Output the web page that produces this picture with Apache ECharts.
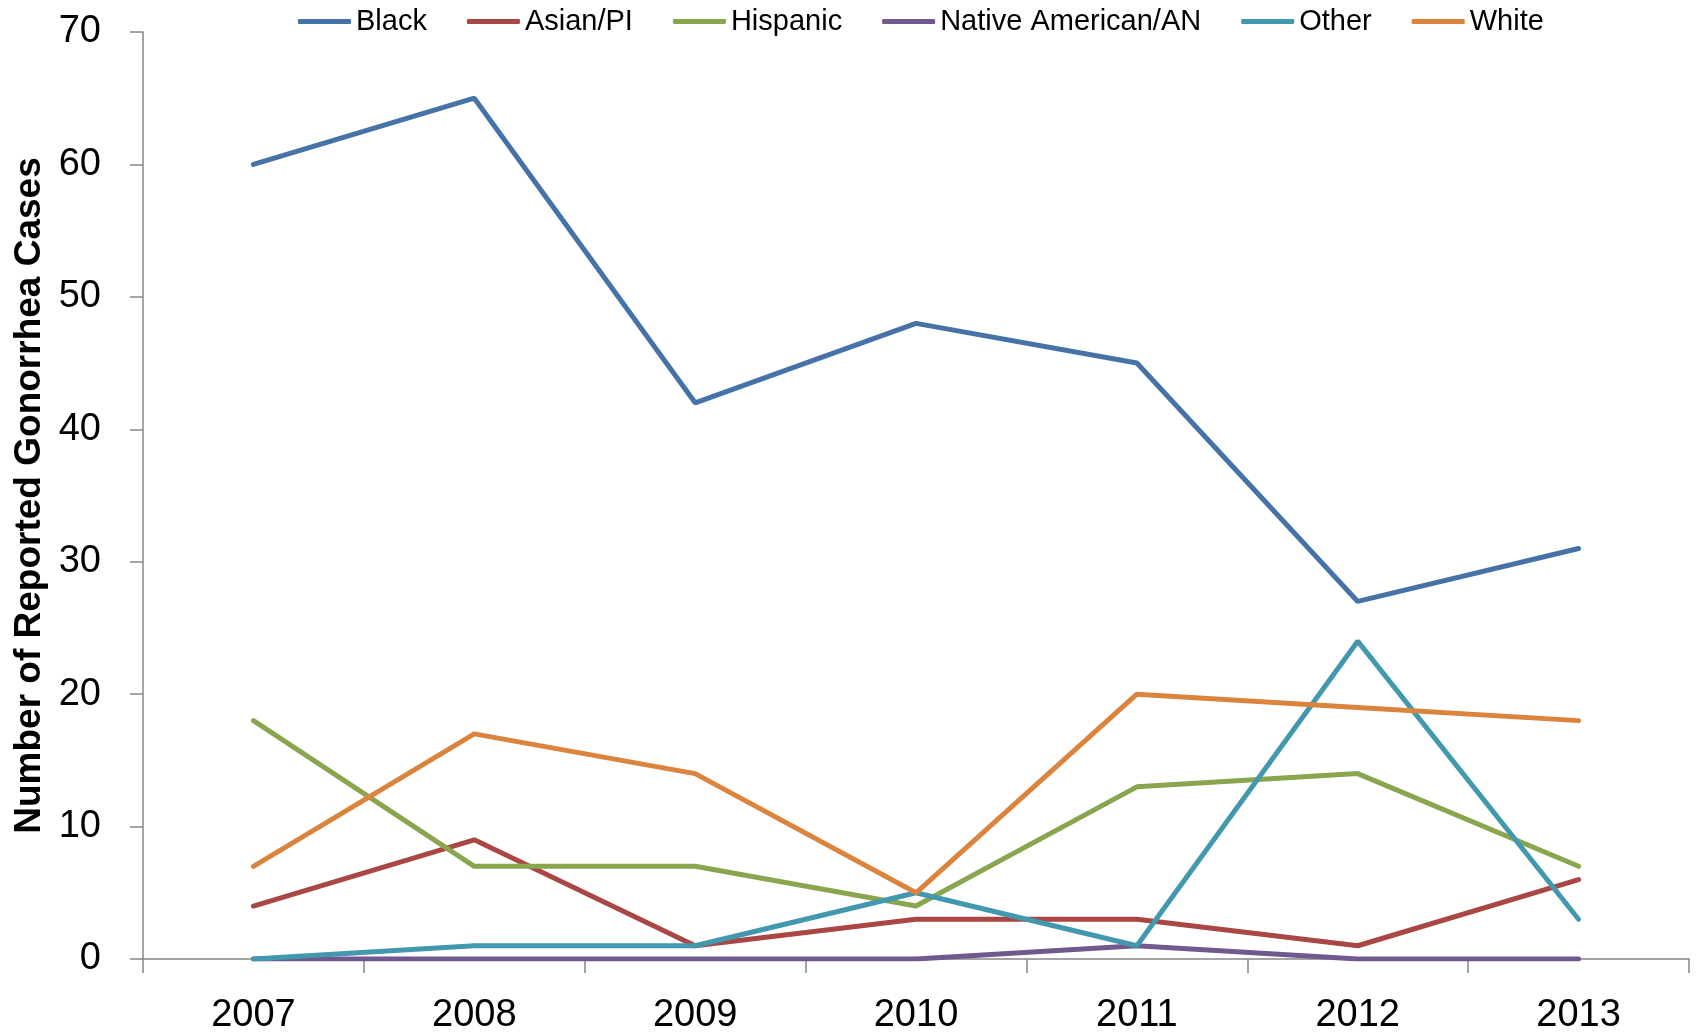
<!DOCTYPE html>
<html>
<head>
<meta charset="utf-8">
<script src="https://cdn.jsdelivr.net/npm/echarts@6/dist/echarts.min.js"></script>
<style>
html,body{margin:0;padding:0;background:#fff;}
#chart{width:1699px;height:1035px;}
</style>
</head>
<body>
<div id="chart"></div>
<script>
const years = ['2007','2008','2009','2010','2011','2012','2013'];
const seriesNames = ['Black','Asian/PI','Hispanic','Native American/AN','Other','White'];
const black = [60,65,42,48,45,27,31];
const asianPI = [4,9,1,3,3,1,6];
const hispanic = [18,7,7,4,13,14,7];
const nativeAmerican = [0,0,0,0,1,0,0];
const other = [0,1,1,5,1,24,3];
const white = [7,17,14,5,20,19,18];
const colors = ['#4572A7','#AA4643','#89A54E','#71588F','#4198AF','#DB843D'];
const values = [black, asianPI, hispanic, nativeAmerican, other, white];

const font = '"Liberation Sans", Arial, sans-serif';
const chart = echarts.init(document.getElementById('chart'), null, {renderer:'canvas'});
chart.setOption({
  animation:false,
  backgroundColor:'#ffffff',
  color: colors,
  legend:{
    left:298, top:7, padding:0,
    itemGap:40, itemWidth:53, itemHeight:5,
    icon:'roundRect',
    textStyle:{fontFamily:font, fontSize:29, color:'#000'},
    data: seriesNames
  },
  grid:{left:143, right:10, top:32, bottom:74},
  xAxis:{
    type:'category', data:years, boundaryGap:true,
    axisLine:{lineStyle:{color:'#868686', width:1.5}},
    axisTick:{show:true, length:14, lineStyle:{color:'#868686', width:1.5}},
    axisLabel:{fontFamily:font, fontSize:38, color:'#000', margin:38}
  },
  yAxis:{
    type:'value', min:0, max:70, interval:10,
    name:'Number of Reported Gonorrhea Cases',
    nameLocation:'middle', nameGap:95, nameRotate:90,
    nameTextStyle:{fontFamily:font, fontSize:37, fontWeight:'bold', color:'#000'},
    axisLine:{show:true, lineStyle:{color:'#868686', width:1.5}},
    axisTick:{show:true, length:13, lineStyle:{color:'#868686', width:1.5}},
    splitLine:{show:false},
    axisLabel:{fontFamily:font, fontSize:38, color:'#000', margin:42}
  },
  series: seriesNames.map((n,i)=>({
    name:n, type:'line', data:values[i], symbol:'none',
    lineStyle:{width:5, cap:'round', color:colors[i]},
    itemStyle:{color:colors[i]}
  }))
});
</script>
</body>
</html>
